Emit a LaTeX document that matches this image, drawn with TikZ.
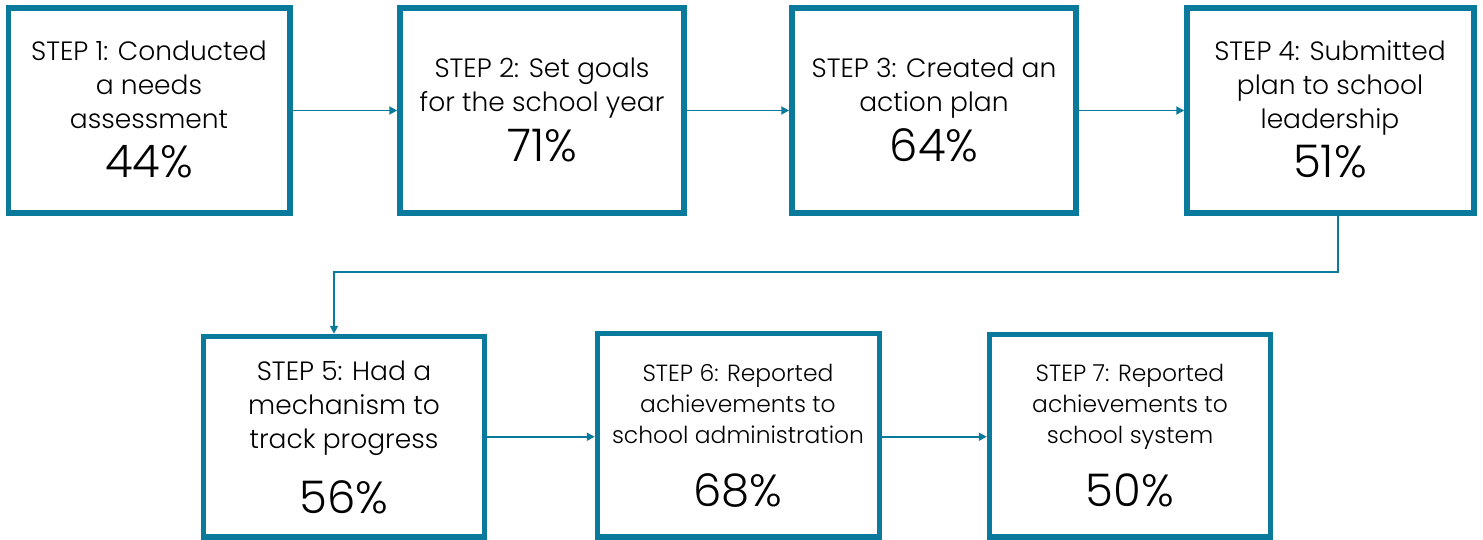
\documentclass[tikz,border=0pt]{standalone}
\usepackage{fontspec}
\setmainfont{Poppins Light}
\usetikzlibrary{arrows.meta}
\definecolor{teal}{HTML}{0A7A9C}
\tikzset{
  box/.style={draw=teal, line width=5.5pt, fill=white, inner sep=0pt},
  lbl/.style={align=center, inner sep=0pt, font=\fontsize{26.5}{34}\selectfont},
  lblsm/.style={align=center, inner sep=0pt, font=\fontsize{23.4}{31}\selectfont},
  pct/.style={inner sep=0pt, font=\fontsize{45}{50}\selectfont},
  arr/.style={draw=teal, line width=1.8pt, -{Triangle[length=8pt,width=8pt]}}
}
\begin{document}
\begin{tikzpicture}[x=1pt,y=-1pt]
\useasboundingbox (0,0) rectangle (1483,540);
% boxes
\node[box, minimum width=281.5, minimum height=205] (b1) at (149.25,110.5) {};
\node[box, minimum width=284, minimum height=205] (b2) at (542,110.5) {};
\node[box, minimum width=284, minimum height=205] (b3) at (934,110.5) {};
\node[box, minimum width=287, minimum height=205] (b4) at (1330.5,110.5) {};
\node[box, minimum width=281, minimum height=200.5] (b5) at (344,436.75) {};
\node[box, minimum width=282, minimum height=203.5] (b6) at (738.5,435.25) {};
\node[box, minimum width=281, minimum height=202.5] (b7) at (1130,435.75) {};
% texts (base anchor = baseline of last line)
\node[lbl, anchor=base] (t1) at (149,129) {STEP 1: Conducted\\a needs\\assessment};
\node[pct, anchor=base] (p1) at (149,178) {44\%};
\node[lbl, anchor=base] (t2) at (542,112) {STEP 2: Set goals\\for the school year};
\node[pct, anchor=base] (p2) at (542,162) {71\%};
\node[lbl, anchor=base] (t3) at (934,112) {STEP 3: Created an\\action plan};
\node[pct, anchor=base] (p3) at (934,162) {64\%};
\node[lbl, anchor=base] (t4) at (1330,129) {STEP 4: Submitted\\plan to school\\leadership};
\node[pct, anchor=base] (p4) at (1330,178) {51\%};
\node[lbl, anchor=base] (t5) at (344,448) {STEP 5: Had a\\mechanism to\\track progress};
\node[pct, anchor=base] (p5) at (344,513) {56\%};
\node[lblsm, anchor=base] (t6) at (738,443) {STEP 6: Reported\\achievements to\\school administration};
\node[pct, anchor=base] (p6) at (738,506) {68\%};
\node[lblsm, anchor=base] (t7) at (1130,443) {STEP 7: Reported\\achievements to\\school system};
\node[pct, anchor=base] (p7) at (1130,506) {50\%};
% connectors
\draw[arr] (b1.east) -- (b2.west);
\draw[arr] (b2.east) -- (b3.west);
\draw[arr] (b3.east) -- (b4.west);
\coordinate (elbow) at (334,272);
\draw[arr] ([xshift=7.5pt]b4.south) |- (elbow) -- (elbow |- b5.north);
\draw[arr] (b5.east) -- (b5.east -| b6.west);
\draw[arr] (b5.east -| b6.east) -- (b5.east -| b7.west);
\end{tikzpicture}
\end{document}
